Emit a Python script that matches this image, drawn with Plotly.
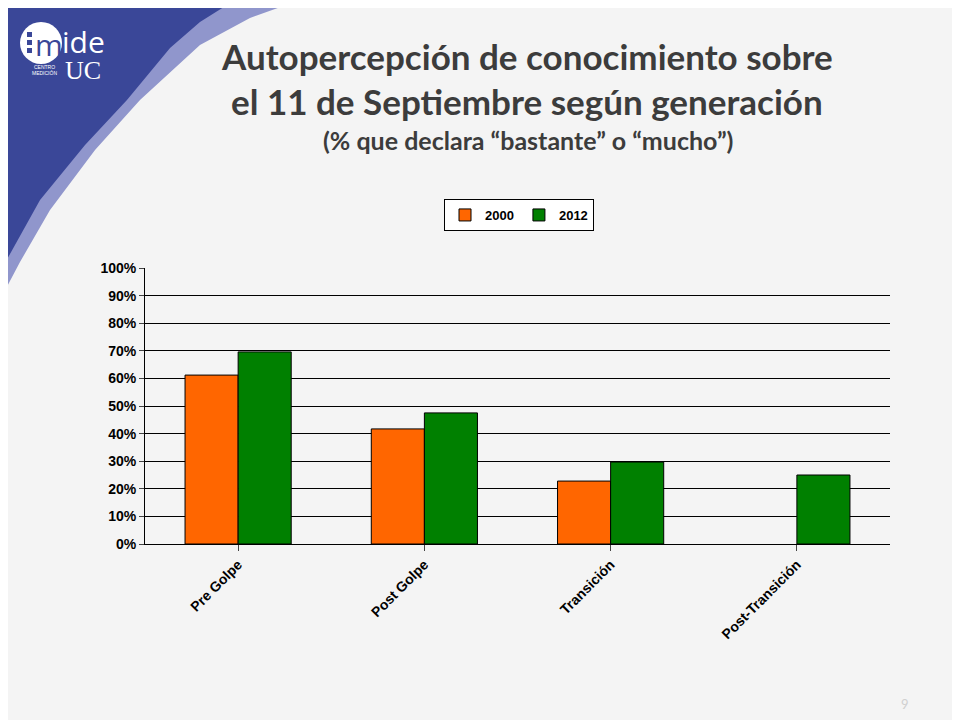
import plotly.graph_objects as go

categories = ["Pre Golpe", "Post Golpe", "Transición", "Post-Transición"]
values_2000 = [0.612, 0.417, 0.228, None]
values_2012 = [0.696, 0.475, 0.297, 0.25]

# the page puts the figure 8px in from the top-left, so work in reference pixels minus 8
OFF = 8
W, H = 960 - OFF, 720 - OFF
L, R, T, B = 145 - OFF, 890 - OFF, 268 - OFF, 544 - OFF


def px(x, y):
    x, y = x - OFF, y - OFF
    return (x - L) / (R - L), (B - y) / (B - T)


def path(points):
    s = ""
    for i, (x, y) in enumerate(points):
        xp, yp = px(x, y)
        s += ("M" if i == 0 else "L") + f"{xp:.4f},{yp:.4f} "
    return s + "Z"


fig = go.Figure()
fig.add_trace(go.Bar(x=categories, y=values_2000, name="2000",
                     marker=dict(color="#ff6600", line=dict(color="black", width=1))))
fig.add_trace(go.Bar(x=categories, y=values_2012, name="2012",
                     marker=dict(color="#008000", line=dict(color="black", width=1))))

# decorative blue corner
outer = [(0, 0), (300, 0), (250, 18), (200, 45), (140, 100), (95, 150), (50, 210), (20, 262), (0, 300), (0, 0)]
inner = [(0, 0), (235, 0), (200, 22), (170, 48), (127, 100), (85, 145), (40, 200), (15, 245), (0, 272)]
shapes = [
    dict(type="path", xref="paper", yref="paper", path=path(outer),
         fillcolor="#9096cc", line=dict(width=0), layer="below"),
    dict(type="path", xref="paper", yref="paper", path=path(inner),
         fillcolor="#3a4798", line=dict(width=0), layer="below"),
]
c0 = px(20, 22)
c1 = px(62, 64)
shapes.append(dict(type="circle", xref="paper", yref="paper",
                   x0=c0[0], y0=c1[1], x1=c1[0], y1=c0[1],
                   fillcolor="white", line=dict(width=0)))
for yy in (35, 43, 51):
    d0 = px(27, yy - 3)
    d1 = px(32, yy + 2)
    shapes.append(dict(type="rect", xref="paper", yref="paper",
                       x0=d0[0], y0=d1[1], x1=d1[0], y1=d0[1],
                       fillcolor="#3a4798", line=dict(width=0)))

annotations = []
def ann(x, y, text, size, color="#3c3c3c", bold=True, xanchor="center", family="Lato"):
    xp, yp = px(x, y)
    annotations.append(dict(x=xp, y=yp, xref="paper", yref="paper", text=f"<b>{text}</b>" if bold else text,
                            showarrow=False, xanchor=xanchor, yanchor="middle",
                            font=dict(size=size, color=color, family=family)))

ann(527, 56, "Autopercepción de conocimiento sobre", 35)
ann(527, 101, "el 11 de Septiembre según generación", 35)
ann(528, 140, "(% que declara “bastante” o “mucho”)", 25)
ann(33, 44, "m", 30, color="#3a4798", bold=False, xanchor="left", family="Open Sans")
ann(60, 42, "ide", 30, color="white", bold=False, xanchor="left", family="Open Sans")
ann(63, 71, "UC", 26, color="white", bold=False, xanchor="left", family="Liberation Serif")
ann(44, 67, "CENTRO", 5, color="white", bold=False, family="Liberation Sans")
ann(44, 73, "MEDICIÓN", 5, color="white", bold=False, family="Liberation Sans")
ann(905, 704, "9", 13, color="#d0d0d0", bold=False)

fig.update_layout(
    width=W, height=H,
    margin=dict(l=L, r=W - R, t=T, b=H - B),
    paper_bgcolor="#f4f4f4", plot_bgcolor="#f4f4f4",
    barmode="group", bargap=0.43, bargroupgap=0,
    font=dict(family="Liberation Sans", size=13, color="black"),
    legend=dict(orientation="h", x=px(519, 0)[0], y=px(0, 215)[1], xanchor="center", yanchor="middle",
                bgcolor="white", bordercolor="black", borderwidth=1,
                font=dict(size=13, family="Liberation Sans", weight="bold")),
    shapes=shapes, annotations=annotations,
    xaxis=dict(tickangle=-45, showline=True, linecolor="black", ticks="outside", ticklen=6,
               tickfont=dict(size=14, weight="bold")),
    yaxis=dict(range=[0, 1], dtick=0.1, tickformat=".0%", showgrid=True, gridcolor="black",
               showline=True, linecolor="black", ticks="outside", ticklen=5, zeroline=False,
               tickfont=dict(size=14, weight="bold")),
)

fig.write_html("out.html")
